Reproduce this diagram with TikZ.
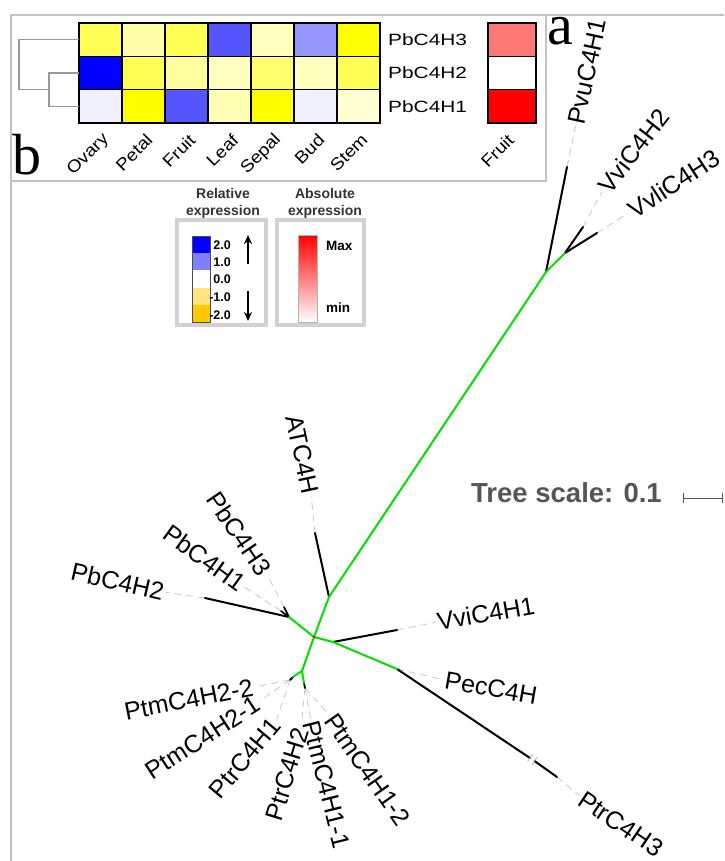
\documentclass[tikz,border=0pt]{standalone}
\usepackage{fontspec}
\setmainfont{Liberation Sans}
\newfontfamily\serifa{Liberation Serif}
\usetikzlibrary{arrows.meta}
\definecolor{grn}{RGB}{0,225,0}
\definecolor{framec}{RGB}{195,195,195}
\definecolor{lkc}{RGB}{200,200,200}
\definecolor{tsc}{RGB}{85,85,85}
\definecolor{h11}{RGB}{255,255,85}
\definecolor{h12}{RGB}{255,255,170}
\definecolor{h13}{RGB}{255,255,85}
\definecolor{h14}{RGB}{85,85,255}
\definecolor{h15}{RGB}{255,255,190}
\definecolor{h16}{RGB}{150,150,255}
\definecolor{h17}{RGB}{255,255,0}
\definecolor{h21}{RGB}{0,0,255}
\definecolor{h22}{RGB}{255,255,85}
\definecolor{h23}{RGB}{255,255,160}
\definecolor{h24}{RGB}{255,255,190}
\definecolor{h25}{RGB}{255,255,110}
\definecolor{h26}{RGB}{255,255,190}
\definecolor{h27}{RGB}{255,255,85}
\definecolor{h31}{RGB}{240,240,255}
\definecolor{h32}{RGB}{255,255,0}
\definecolor{h33}{RGB}{85,85,255}
\definecolor{h34}{RGB}{255,255,180}
\definecolor{h35}{RGB}{255,255,0}
\definecolor{h36}{RGB}{240,240,255}
\definecolor{h37}{RGB}{255,255,210}
\definecolor{fr1}{RGB}{255,120,120}
\definecolor{fr3}{RGB}{255,0,0}
\definecolor{lb1}{RGB}{0,0,255}
\definecolor{lb2}{RGB}{128,128,255}
\definecolor{lb4}{RGB}{255,228,128}
\definecolor{lb5}{RGB}{255,200,0}
\begin{document}
\begin{tikzpicture}[x=1pt,y=-1pt,
  leaf/.style={font=\fontsize{25}{30}\selectfont, inner sep=0pt},
  gb/.style={draw=grn, line width=2pt, line cap=round},
  bb/.style={draw=black, line width=2pt, line cap=round},
  lk/.style={draw=lkc, line width=0.8pt, dash pattern=on 7pt off 5pt, shorten >=2pt},
  hm/.style={font=\fontsize{16.3}{18}\selectfont, inner sep=0pt},
  hmc/.style={font=\fontsize{17}{19}\selectfont, inner sep=0pt},
  lgbox/.style={draw=gray!35, line width=3.5pt},
  lgt/.style={font=\bfseries\fontsize{14}{17}\selectfont, align=center, text=black!80, inner sep=0pt},
  lgn/.style={font=\bfseries\fontsize{12.5}{14}\selectfont, inner sep=0pt},
  framel/.style={draw=framec, line width=2pt}]
\useasboundingbox (0,0) rectangle (724,861);
% frame
\draw[framel] (724,15) -- (11,15) -- (11,861);
\draw[framel] (11,15) rectangle (546,181);
% heatmap
\foreach \r in {1,2,3}{
  \foreach \c in {1,...,7}{
    \fill[fill=h\r\c] ({79+43*(\c-1)},{23+33.333*(\r-1)}) rectangle ++(43,33.333);
  }
}
\foreach \c in {1,...,6}{
  \draw[line width=1.2pt] ({79+43*\c},23) -- ({79+43*\c},123);
}
\draw[line width=1.2pt] (79,56.333) -- (380,56.333) (79,89.667) -- (380,89.667);
\draw[line width=1.2pt] (79,23) rectangle (380,123);
% dendrogram
\draw[gray!80, line width=1.1pt] (79,39.7) -- (19,39.7) -- (19,89.7) -- (49,89.7);
\draw[gray!80, line width=1.1pt] (79,73) -- (49,73) -- (49,106.3) -- (79,106.3);
% row labels
\node[hm, anchor=west] (r1) at (388,39.7) {\scalebox{1.28}[1]{PbC4H3}};
\node[hm, anchor=west] (r2) at (388,73) {\scalebox{1.28}[1]{PbC4H2}};
\node[hm, anchor=west] (r3) at (388,106.3) {\scalebox{1.28}[1]{PbC4H1}};
% fruit column
\fill[fr1] (488,23) rectangle (536,56.333);
\fill[white] (488,56.333) rectangle (536,89.667);
\fill[fr3] (488,89.667) rectangle (536,123);
\draw[line width=1.2pt] (488,23) rectangle (536,123);
\draw[line width=1.2pt] (488,56.333) -- (536,56.333) (488,89.667) -- (536,89.667);
% column labels
\foreach \nm [count=\i] in {Ovary,Petal,Fruit,Leaf,Sepal,Bud,Stem}{
  \node[hmc, rotate=45, anchor=east] (col\i) at ({79+43*(\i-0.5)+6},137) {\scalebox{1.12}[1]{\nm}};
}
\node[hmc, rotate=45, anchor=east] (colF) at (511,137) {\scalebox{1.12}[1]{Fruit}};
% panel letters
\node[font=\serifa\fontsize{58}{58}\selectfont, anchor=base west, inner sep=0pt] (la) at (547,45) {a};
\node[font=\serifa\fontsize{58}{58}\selectfont, anchor=base west, inner sep=0pt] (lbb) at (12,175) {b};
% legends
\node[lgt] (relT) at (223,203.5) {Relative\\expression};
\node[lgt] (absT) at (325,203.5) {Absolute\\expression};
\draw[lgbox] (177,220) rectangle (266,325);
\draw[lgbox] (277,220) rectangle (364,325);
\fill[lb1] (192,236) rectangle (210,253.2);
\fill[lb2] (192,253.2) rectangle (210,270.4);
\fill[white] (192,270.4) rectangle (210,287.6);
\fill[lb4] (192,287.6) rectangle (210,304.8);
\fill[lb5] (192,304.8) rectangle (210,322);
\draw[black!70, line width=0.6pt] (192,236) rectangle (210,322);
\node[lgn, anchor=east] (n1) at (231,245) {2.0};
\node[lgn, anchor=east] (n2) at (231,262) {1.0};
\node[lgn, anchor=east] (n3) at (231,279) {0.0};
\node[lgn, anchor=east] (n4) at (231,297) {-1.0};
\node[lgn, anchor=east] (n5) at (231,315) {-2.0};
\coordinate (au1) at (248,264); \coordinate (au2) at (248,235);
\coordinate (ad1) at (248,291); \coordinate (ad2) at (248,321);
\draw[line width=1.6pt, -{Stealth[length=9pt,width=8pt]}] (au1) -- (au2);
\draw[line width=1.6pt, -{Stealth[length=9pt,width=8pt]}] (ad1) -- (ad2);
\shade[top color=red, bottom color=white] (298,235) rectangle (317,322);
\draw[gray!60, line width=0.6pt] (298,235) rectangle (317,322);
\node[lgn, font=\bfseries\fontsize{13.5}{15}\selectfont, anchor=west] (mx) at (326,246) {Max};
\node[lgn, font=\bfseries\fontsize{13.5}{15}\selectfont, anchor=west] (mn) at (326,308) {min};
% tree scale
\node[font=\bfseries\fontsize{27.5}{30}\selectfont, text=tsc, anchor=west, inner sep=0pt] (ts) at (471,493) {Tree scale: 0.1};
\coordinate (sb1) at (683,498); \coordinate (sb2) at (722,498);
\draw[tsc, line width=1pt] (sb1) -- (sb2) ([yshift=5pt]sb1) -- ([yshift=-5pt]sb1) ([yshift=5pt]sb2) -- ([yshift=-5pt]sb2);
% tree coordinates
\coordinate (O) at (314,637);
\coordinate (A) at (329,597);
\coordinate (B) at (546,272);
\coordinate (C) at (565,253);
\coordinate (D) at (333,642);
\coordinate (E) at (397,669);
\coordinate (F) at (302,671);
\coordinate (G) at (289,617);
\coordinate (F1) at (293,677);
\coordinate (F2) at (304,683);
\coordinate (tATC) at (315,533);
\coordinate (tPvu) at (567,167);
\coordinate (tVvi2) at (583,227);
\coordinate (tVvl3) at (597,233);
\coordinate (tVvi1) at (397,630);
\coordinate (brk1) at (530,758);
\coordinate (brk2) at (534.5,761);
\coordinate (tPtr3) at (557,777);
\coordinate (tPb2) at (205,598);
\coordinate (tPb1) at (281,611);
\coordinate (tPb3) at (284,607);
\coordinate (tF1) at (290,680);
\coordinate (tF2) at (305,688);
% labels
\node[leaf, anchor=west, rotate=78] (lPvu) at (576,124) {PvuC4H1};
\node[leaf, anchor=west, rotate=52] (lVvi2) at (603,190) {VviC4H2};
\node[leaf, anchor=west, rotate=33] (lVvl3) at (630,212) {VvliC4H3};
\node[leaf, anchor=west, rotate=10] (lVvi1) at (437,622) {VviC4H1};
\node[leaf, anchor=west, rotate=-10] (lPec) at (445,680) {PecC4H};
\node[leaf, anchor=west, rotate=-34] (lPtr3) at (581,797) {PtrC4H3};
\node[leaf, anchor=east, rotate=-78] (lATC) at (311,494) {ATC4H};
\node[leaf, anchor=east, rotate=-56] (lPb3) at (266,573) {PbC4H3};
\node[leaf, anchor=east, rotate=-36] (lPb1) at (243,586) {PbC4H1};
\node[leaf, anchor=east, rotate=-13] (lPb2) at (164,592) {PbC4H2};
\node[leaf, anchor=east, rotate=11] (lPtm22) at (253,687) {PtmC4H2-2};
\node[leaf, anchor=east, rotate=33] (lPtm21) at (258,702) {PtmC4H2-1};
\node[leaf, anchor=east, rotate=50] (lPtr1) at (276,721) {PtrC4H1};
\node[leaf, anchor=east, rotate=73] (lPtr2) at (301,728) {PtrC4H2};
\node[leaf, anchor=west, rotate=-76] (lPtm11) at (311,721) {PtmC4H1-1};
\node[leaf, anchor=west, rotate=-55] (lPtm12) at (330,716) {PtmC4H1-2};
% gray links
\draw[lk] (tPvu) -- (lPvu.west);
\draw[lk] (tVvi2) -- (lVvi2.west);
\draw[lk] (tVvl3) -- (lVvl3.west);
\draw[lk] (tVvi1) -- (lVvi1.west);
\draw[lk] (E) -- (lPec.west);
\draw[lk] (tPtr3) -- (lPtr3.west);
\draw[lk] (tATC) -- (lATC.east);
\draw[lk] (tPb3) -- (lPb3.east);
\draw[lk] (tPb1) -- (lPb1.east);
\draw[lk] (tPb2) -- (lPb2.east);
\draw[lk] (tF1) -- (lPtm22.east);
\draw[lk] (tF1) -- (lPtm21.east);
\draw[lk] (tF1) -- (lPtr1.east);
\draw[lk] (tF2) -- (lPtr2.east);
\draw[lk] (tF2) -- (lPtm11.west);
\draw[lk] (tF2) -- (lPtm12.west);
% black branches
\draw[bb] (A) -- (tATC);
\draw[bb] (B) -- (tPvu);
\draw[bb] (C) -- (tVvi2);
\draw[bb] (C) -- (tVvl3);
\draw[bb] (D) -- (tVvi1);
\draw[bb] (E) -- (brk1);
\draw[bb] (brk2) -- (tPtr3);
\draw[gray!60, line width=0.8pt] ([xshift=-2.5pt,yshift=-3.7pt]brk1) -- ([xshift=2.5pt,yshift=3.7pt]brk1);
\draw[gray!60, line width=0.8pt] ([xshift=-2.5pt,yshift=-3.7pt]brk2) -- ([xshift=2.5pt,yshift=3.7pt]brk2);
\draw[bb] (G) -- (tPb2);
\draw[bb, line width=1.6pt] (G) -- (tPb1);
\draw[bb, line width=1.6pt] (G) -- (tPb3);
\draw[bb, line width=1.8pt] (F1) -- (tF1);
\draw[bb, line width=1.8pt] (F2) -- (tF2);
% green branches
\draw[gb] (O) -- (A) -- (B) -- (C);
\draw[gb] (O) -- (D) -- (E);
\draw[gb] (O) -- (F) -- (F1);
\draw[gb] (F) -- (F2);
\draw[gb] (O) -- (G);
\fill[red] (O) circle (1.4pt);
\end{tikzpicture}
\end{document}
